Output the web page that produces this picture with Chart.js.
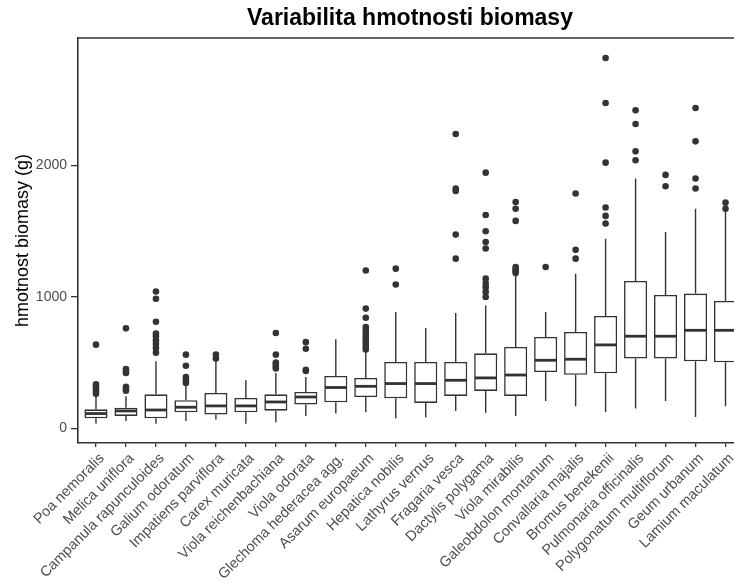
<!DOCTYPE html>
<html>
<head>
<meta charset="utf-8">
<script src="https://cdn.jsdelivr.net/npm/chart.js@4"></script>
<style>
  html, body { margin: 0; padding: 0; background: #fff; overflow: hidden; }
  #wrap { width: 820px; height: 583px; }
</style>
</head>
<body>
<div id="wrap"><canvas id="chart" width="820" height="583"></canvas></div>
<script>
const categories = [
  "Poa nemoralis", "Melica uniflora", "Campanula rapunculoides", "Galium odoratum",
  "Impatiens parviflora", "Carex muricata", "Viola reichenbachiana", "Viola odorata",
  "Glechoma hederacea agg.", "Asarum europaeum", "Hepatica nobilis", "Lathyrus vernus",
  "Fragaria vesca", "Dactylis polygama", "Viola mirabilis", "Galeobdolon montanum",
  "Convallaria majalis", "Bromus benekenii", "Pulmonaria officinalis",
  "Polygonatum multiflorum", "Geum urbanum", "Lamium maculatum"
];
const whiskerLow  = [35, 56, 35, 56, 66, 35, 46, 94, 112, 122, 76, 81, 132, 119, 94, 208, 167, 124, 150, 208, 86, 167];
const q1          = [76, 94, 76, 122, 104, 122, 134, 180, 198, 238, 228, 193, 246, 284, 246, 428, 407, 418, 530, 530, 509, 502];
const median      = [112, 132, 139, 160, 170, 170, 200, 238, 310, 319, 340, 340, 365, 383, 405, 517, 525, 634, 700, 700, 745, 745];
const q3          = [144, 157, 258, 213, 269, 231, 258, 276, 398, 383, 504, 504, 504, 570, 618, 694, 732, 854, 1120, 1014, 1024, 968];
const whiskerHigh = [245, 243, 509, 330, 517, 365, 421, 390, 677, 590, 885, 763, 877, 933, 1170, 885, 1176, 1442, 1899, 1493, 1670, 1650];
const outliers = [
  [262, 280, 300, 320, 335, 636],
  [285, 300, 315, 420, 435, 450, 760],
  [575, 610, 640, 670, 700, 720, 810, 985, 1040],
  [345, 365, 390, 475, 560],
  [530, 560],
  [],
  [455, 470, 485, 500, 560, 725],
  [435, 445, 605, 655],
  [],
  [600, 620, 640, 660, 680, 700, 720, 745, 770, 840, 910, 1200],
  [1093, 1214],
  [],
  [1290, 1473, 1805, 1823, 2238],
  [998, 1037, 1070, 1100, 1138, 1367, 1417, 1498, 1622, 1944],
  [1180, 1195, 1210, 1227, 1577, 1670, 1721],
  [1226],
  [1290, 1357, 1785],
  [1557, 1615, 1679, 2020, 2474, 2816],
  [2038, 2106, 2314, 2418],
  [1840, 1927],
  [1823, 1899, 2182, 2436],
  [1670, 1716]
];
const yTicks = [0, 1000, 2000];

const ink = "#333333";
const font = "'Liberation Sans', Arial, sans-serif";

const boxData = categories.map((c, i) => ({ x: i, y: [q1[i], q3[i]] }));
const outlierData = [];
outliers.forEach((list, i) => list.forEach(v => outlierData.push({ x: i, y: v })));

// whiskers, medians and the top/right panel border
const boxExtras = {
  id: "boxExtras",
  afterDatasetsDraw(chart) {
    const ctx = chart.ctx;
    const y = chart.scales.y;
    const bars = chart.getDatasetMeta(0).data;
    ctx.save();
    ctx.strokeStyle = ink;
    bars.forEach((bar, i) => {
      ctx.lineWidth = 1.4;
      ctx.beginPath();
      ctx.moveTo(bar.x, y.getPixelForValue(q3[i]));
      ctx.lineTo(bar.x, y.getPixelForValue(whiskerHigh[i]));
      ctx.moveTo(bar.x, y.getPixelForValue(q1[i]));
      ctx.lineTo(bar.x, y.getPixelForValue(whiskerLow[i]));
      ctx.stroke();
      const half = bar.width / 2 - 0.8;
      const m = y.getPixelForValue(median[i]);
      ctx.lineWidth = 2.8;
      ctx.beginPath();
      ctx.moveTo(bar.x - half, m);
      ctx.lineTo(bar.x + half, m);
      ctx.stroke();
    });
    const a = chart.chartArea;
    ctx.lineWidth = 1.6;
    ctx.beginPath();
    ctx.moveTo(a.left, a.top);
    ctx.lineTo(a.right, a.top);
    ctx.lineTo(a.right, a.bottom);
    ctx.stroke();
    ctx.restore();
  }
};

new Chart(document.getElementById("chart").getContext("2d"), {
  type: "bar",
  data: {
    datasets: [
      {
        type: "bar",
        data: boxData,
        backgroundColor: "#ffffff",
        borderColor: ink,
        borderWidth: 1.6,
        borderSkipped: false,
        categoryPercentage: 1,
        barPercentage: 0.77
      },
      {
        type: "scatter",
        data: outlierData,
        pointRadius: 3.3,
        pointBackgroundColor: ink,
        pointBorderWidth: 0
      }
    ]
  },
  options: {
    responsive: false,
    animation: false,
    devicePixelRatio: 1,
    layout: { padding: 0 },
    plugins: {
      legend: { display: false },
      tooltip: { enabled: false },
      title: {
        display: true,
        text: "Variabilita hmotnosti biomasy",
        color: "#000",
        font: { family: font, size: 23, weight: "bold" },
        padding: { top: 5, bottom: 5.4 }
      }
    },
    scales: {
      x: {
        type: "linear",
        min: -0.6,
        max: 21.6,
        offset: false,
        afterBuildTicks: s => { s.ticks = categories.map((c, i) => ({ value: i })); },
        afterFit: s => { s.height = 140; s.paddingLeft = 0; s.paddingRight = 0; },
        ticks: {
          autoSkip: false,
          minRotation: 45,
          maxRotation: 45,
          labelOffset: 6,
          padding: 3,
          color: "#4d4d4d",
          font: { family: font, size: 14.5 },
          callback: v => categories[v]
        },
        grid: { offset: false, drawOnChartArea: false, tickLength: 4, color: ink, lineWidth: 1.3 },
        border: { display: true, color: ink, width: 1.6 }
      },
      y: {
        type: "linear",
        min: -112,
        max: 2968,
        afterBuildTicks: s => { s.ticks = yTicks.map(v => ({ value: v })); },
        afterFit: s => { s.width = 78; },
        ticks: {
          padding: 4,
          color: "#4d4d4d",
          font: { family: font, size: 14 },
          callback: v => String(v)
        },
        grid: { drawOnChartArea: false, tickLength: 7, color: ink, lineWidth: 1.3 },
        border: { display: true, color: ink, width: 1.6 },
        title: {
          display: true,
          text: "hmotnost biomasy (g)",
          color: "#000",
          font: { family: font, size: 18 },
          padding: { top: 12.2, bottom: 0 }
        }
      },
      // empty right-hand strip: the panel runs past the window edge
      right: {
        type: "linear",
        position: "right",
        display: true,
        afterFit: s => { s.width = 76.5; },
        ticks: { display: false },
        grid: { display: false, drawTicks: false },
        border: { display: false }
      }
    }
  },
  plugins: [boxExtras]
});
</script>
</body>
</html>
